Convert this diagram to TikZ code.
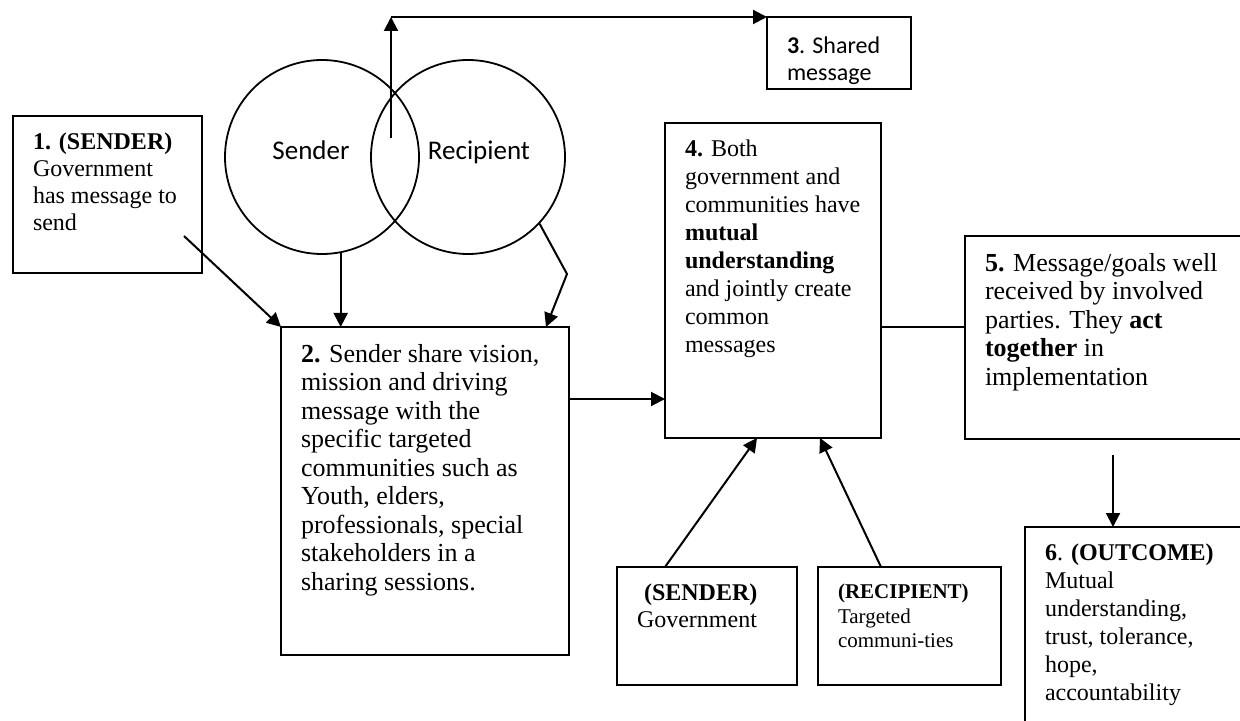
\documentclass[tikz,border=0pt]{standalone}
\usepackage{fontspec}
\setmainfont{Liberation Serif}
\newfontfamily\calibri{Carlito}
\usetikzlibrary{arrows.meta}

\newcommand{\boxtext}[3]{\parbox[t][#2][t]{#1}{\raggedright #3}}

\begin{document}
\begin{tikzpicture}[x=0.5pt,y=-0.5pt,>={Triangle[length=7pt,width=7pt]},line width=1pt,
  stage box/.style={draw,anchor=north west,inner xsep=10pt,inner ysep=8.5pt,outer sep=0pt},
  venn/.style={circle,draw,line width=0.9pt,minimum size=97pt,inner sep=0pt},
  venn label/.style={anchor=base,font=\calibri\fontsize{13.5}{16}\selectfont}]

  \useasboundingbox (0,0) rectangle (1240,721);
  \clip (0,0) rectangle (1240,721);

  % sender / recipient overlap
  \node[venn] (sender) at (322,157) {};
  \node[venn] (recipient) at (468,157) {};
  \node[venn label] (sendertext) at (311,160) {Sender};
  \node[venn label] (recipienttext) at (479,160) {Recipient};

  \node[stage box,font=\fontsize{12}{13.5}\selectfont] (s1) at (13,116)
    {\boxtext{74.5pt}{61.5pt}{\textbf{1. (SENDER)}\\ Government\\ has message to\\ send}};
  \node[stage box,font=\fontsize{13}{14.25}\selectfont] (s2) at (281,327)
    {\boxtext{124pt}{147pt}{\textbf{2.} Sender share vision,\\ mission and driving\\ message with the\\ specific targeted\\ communities such as\\ Youth, elders,\\ professionals, special\\ stakeholders in a\\ sharing sessions.}};
  \node[stage box,inner ysep=10pt,font=\calibri\fontsize{12}{13.5}\selectfont] (s3) at (767,17)
    {\boxtext{52pt}{16pt}{\textbf{3}. Shared\\ message}};
  \node[stage box,font=\fontsize{12}{14}\selectfont] (s4) at (665,123)
    {\boxtext{88pt}{140.5pt}{\textbf{4.} Both\\ government and\\ communities have\\ \textbf{mutual}\\ \textbf{understanding}\\ and jointly create\\ common\\ messages}};
  \node[stage box,font=\fontsize{13}{14.25}\selectfont] (s5) at (965,236)
    {\boxtext{132.5pt}{84.5pt}{\textbf{5.} Message/goals well\\ received by involved\\ parties. They \textbf{act}\\ \textbf{together} in\\ implementation}};
  \node[stage box,font=\fontsize{12}{14}\selectfont] (s6) at (1025,527)
    {\boxtext{102.5pt}{89.5pt}{\textbf{6}. \textbf{(OUTCOME)}\\ Mutual\\ understanding,\\ trust, tolerance,\\ hope,\\ accountability}};
  \node[stage box,font=\fontsize{12}{13.5}\selectfont] (gov) at (617,567)
    {\boxtext{70pt}{42pt}{\hspace*{3.5pt}\textbf{(SENDER)}\\ Government}};
  \node[stage box,font=\fontsize{10.5}{12.25}\selectfont] (com) at (818,567)
    {\boxtext{71.5pt}{42pt}{\textbf{(RECIPIENT)}\\ Targeted\\ communi-ties}};

  % connectors
  \coordinate (lens) at (391,138);
  \coordinate (apex) at (391,17);
  \draw[->] (lens) -- (apex);
  \draw[->] (apex) -- (s3.north west);

  \coordinate (s1out) at (184,236);
  \draw[->] (s1out) -- (s2.north west);
  \draw[->] (sender.-79) -- (sender.-79 |- s2.north);
  \coordinate (bend) at (567,274);
  \draw[->] (recipient.-43) -- (bend) -- ([xshift=-11.5pt]s2.north east);

  \coordinate (m24) at ([yshift=-36pt]s2.north east);
  \draw[->] (m24) -- (m24 -| s4.west);
  \coordinate (m45) at ([yshift=-23.25pt]s4.east);
  \draw (m45) -- (m45 -| s5.west);
  \coordinate (s5out) at (1113,455);
  \draw[->] (s5out) -- (s5out |- s6.north);

  \draw[->] ([xshift=24pt]gov.north west) -- ([xshift=46pt]s4.south west);
  \draw[->] ([xshift=31.5pt]com.north west) -- ([xshift=77.5pt]s4.south west);

\end{tikzpicture}
\end{document}
